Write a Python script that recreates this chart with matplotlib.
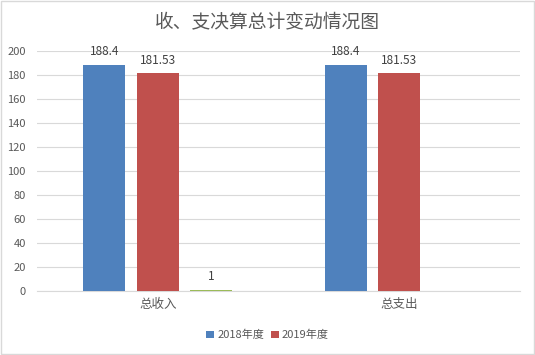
import numpy as np
import matplotlib.pyplot as plt

plt.rcParams['font.family'] = ['Noto Sans CJK SC', 'DejaVu Sans']

# data
categories = ['总收入', '总支出']
series_names = ['2018年度', '2019年度', '其他']
values_2018 = [188.4, 188.4]
values_2019 = [181.53, 181.53]
values_other = [1, np.nan]
y_ticks = list(range(0, 201, 20))

colors = ['#4F81BD', '#C0504D', '#9BBB59']
text_gray = '#595959'
grid_gray = '#D9D9D9'

fig = plt.figure(figsize=(5.35, 3.55), dpi=100)
ax = fig.add_axes([0.0692, 0.1794, 0.9028, 0.6761])

x = np.arange(len(categories))
width = 0.174
step = 0.2215
all_series = [values_2018, values_2019, values_other]

for i, (vals, name) in enumerate(zip(all_series, series_names)):
    pos = x + (i - 1) * step
    bars = ax.bar(pos, vals, width=width, color=colors[i], zorder=3,
                  label=name if i < 2 else '_nolegend_')
    for p, v in zip(pos, vals):
        if np.isnan(v):
            continue
        ax.annotate(f'{v:g}', (p, v), xytext=(0, 5), textcoords='offset points',
                    ha='center', va='bottom', fontsize=8.5, color='#404040')

ax.set_xlim(-0.5, 1.5)
ax.set_ylim(0, 200)
ax.set_yticks(y_ticks)
ax.set_xticks(x)
ax.set_xticklabels(categories, fontsize=9, color=text_gray)
ax.tick_params(axis='y', labelsize=8, colors=text_gray, length=0, pad=8)
ax.tick_params(axis='x', length=0, pad=5)
ax.grid(axis='y', color=grid_gray, linewidth=0.8, zorder=0)
for s in ['top', 'right', 'left']:
    ax.spines[s].set_visible(False)
ax.spines['bottom'].set_color(grid_gray)
ax.spines['bottom'].set_linewidth(0.8)

fig.text(0.5, 0.938, '收、支决算总计变动情况图', ha='center', va='center',
         fontsize=13.5, color=text_gray)

fig.legend(loc='center', bbox_to_anchor=(0.5, 0.056), ncol=2, frameon=False,
           fontsize=8, handlelength=0.7, handleheight=0.7, handletextpad=0.3,
           columnspacing=0.6, labelcolor=text_gray)

# light border around the chart
fig.patches.append(plt.Rectangle((0.001, 0.002), 0.997, 0.995, transform=fig.transFigure,
                                 fill=False, edgecolor=grid_gray, linewidth=1))

fig.savefig('out.png', dpi=100)
